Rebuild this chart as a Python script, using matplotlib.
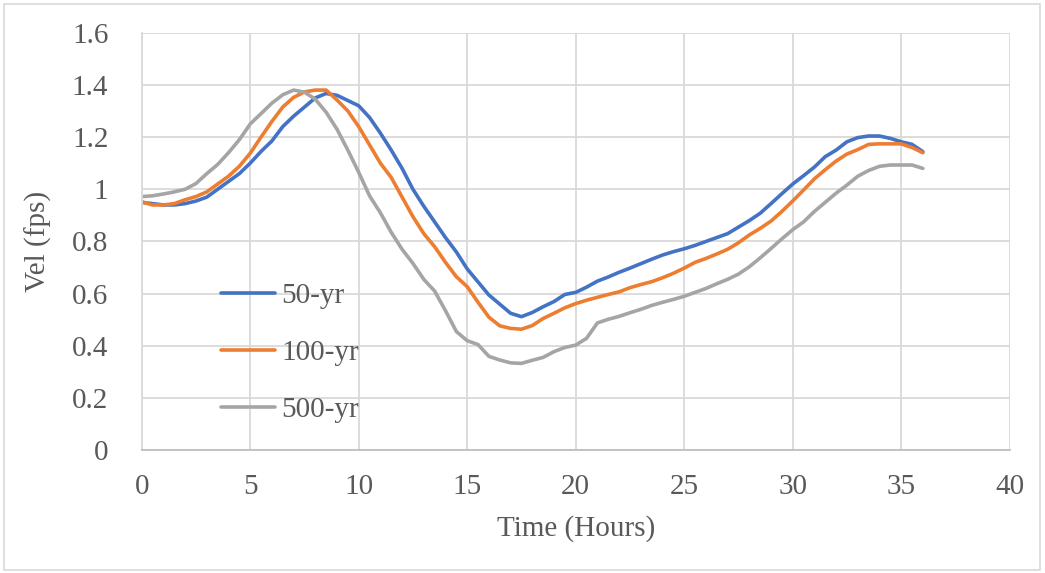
import numpy as np
import matplotlib.pyplot as plt
from matplotlib.patches import Rectangle

plt.rcParams['font.family'] = ['Liberation Serif', 'DejaVu Serif']

hours = np.arange(0, 36.01, 0.5)

vel_50 = [0.95, 0.945, 0.94, 0.94, 0.945, 0.955, 0.97, 1.0, 1.03, 1.06,
          1.10, 1.145, 1.185, 1.24, 1.28, 1.315, 1.35, 1.367, 1.36, 1.34,
          1.32, 1.275, 1.215, 1.15, 1.08, 1.0, 0.935, 0.875, 0.815, 0.76,
          0.695, 0.645, 0.595, 0.56, 0.525, 0.512, 0.528, 0.55, 0.57, 0.597,
          0.605, 0.625, 0.648, 0.664, 0.682, 0.698, 0.715, 0.732, 0.748, 0.761,
          0.772, 0.785, 0.80, 0.815, 0.83, 0.855, 0.88, 0.908, 0.945, 0.983,
          1.02, 1.052, 1.085, 1.125, 1.15, 1.182, 1.198, 1.204, 1.204, 1.195,
          1.182, 1.172, 1.144]

vel_100 = [0.952, 0.94, 0.94, 0.945, 0.96, 0.972, 0.99, 1.02, 1.05, 1.088,
           1.138, 1.2, 1.26, 1.315, 1.352, 1.373, 1.38, 1.38, 1.342, 1.30,
           1.24, 1.17, 1.10, 1.045, 0.97, 0.895, 0.83, 0.78, 0.72, 0.665,
           0.627, 0.567, 0.51, 0.477, 0.467, 0.464, 0.478, 0.505, 0.525, 0.546,
           0.562, 0.575, 0.586, 0.597, 0.607, 0.623, 0.635, 0.646, 0.661, 0.678,
           0.698, 0.72, 0.735, 0.752, 0.77, 0.795, 0.825, 0.85, 0.878, 0.915,
           0.955, 0.997, 1.04, 1.075, 1.108, 1.135, 1.152, 1.172, 1.174, 1.174,
           1.174, 1.16, 1.14]

vel_500 = [0.972, 0.975, 0.982, 0.99, 1.0, 1.022, 1.06, 1.095, 1.14, 1.19,
           1.25, 1.29, 1.33, 1.362, 1.38, 1.372, 1.345, 1.295, 1.23, 1.15,
           1.065, 0.975, 0.91, 0.835, 0.77, 0.716, 0.655, 0.61, 0.535, 0.455,
           0.42, 0.405, 0.36, 0.346, 0.335, 0.333, 0.345, 0.356, 0.378, 0.394,
           0.403, 0.429, 0.488, 0.502, 0.513, 0.527, 0.54, 0.555, 0.567, 0.578,
           0.59, 0.605, 0.62, 0.638, 0.655, 0.675, 0.703, 0.737, 0.773, 0.81,
           0.845, 0.875, 0.915, 0.95, 0.985, 1.016, 1.05, 1.072, 1.088, 1.093,
           1.093, 1.093, 1.08]

labels = ["50-yr", "100-yr", "500-yr"]
colors = ["#4472C4", "#ED7D31", "#A5A5A5"]

fig = plt.figure(figsize=(10.45, 5.73), dpi=100)
ax = fig.add_axes([0.1356, 0.2141, 0.8306, 0.7289])

for vals, lab, col in zip([vel_50, vel_100, vel_500], labels, colors):
    ax.plot(hours, vals, color=col, lw=2.6, label=lab, solid_capstyle='round')

ax.set_xlim(0, 40)
ax.set_ylim(0, 1.6)
ax.set_xticks(np.arange(0, 41, 5))
ax.set_yticks(np.arange(0, 1.61, 0.2))
ax.set_yticklabels(["0", "0.2", "0.4", "0.6", "0.8", "1", "1.2", "1.4", "1.6"])
ax.grid(True, color="#D9D9D9", lw=1.3)
ax.set_axisbelow(True)
for s in ["top", "right"]:
    ax.spines[s].set_visible(False)
ax.spines["left"].set_color("#D9D9D9")
ax.spines["left"].set_linewidth(1.3)
ax.spines["bottom"].set_color("#BFBFBF")
ax.spines["bottom"].set_linewidth(1.3)
ax.tick_params(length=0, labelsize=21, colors="#595959", pad=17)
ax.tick_params(axis='y', pad=24)

ax.set_xlabel("Time (Hours)", fontsize=21, color="#595959", labelpad=11)
ax.set_ylabel("Vel (fps)", fontsize=21, color="#595959", labelpad=14)

ax.legend(loc="upper left", bbox_to_anchor=(0.075, 0.437), frameon=False,
          fontsize=21, labelcolor="#595959", handlelength=1.85,
          handletextpad=0.2, labelspacing=1.06, borderpad=0)

fig.patches.append(Rectangle((4 / 1045, 3 / 573), 1036 / 1045, 566 / 573,
                             transform=fig.transFigure, fill=False,
                             edgecolor="#D9D9D9", lw=1.2))

fig.savefig("out.png", dpi=100)
